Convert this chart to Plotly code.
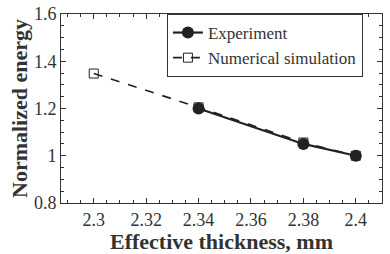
import plotly.graph_objects as go

exp_x = [2.34, 2.38, 2.40]
exp_y = [1.20, 1.05, 1.00]
sim_x = [2.30, 2.34, 2.38, 2.40]
sim_y = [1.348, 1.205, 1.056, 1.00]
x_ticks = [2.3, 2.32, 2.34, 2.36, 2.38, 2.4]
x_tick_labels = ["2.3", "2.32", "2.34", "2.36", "2.38", "2.4"]
y_ticks = [0.8, 1.0, 1.2, 1.4, 1.6]
y_tick_labels = ["0.8", "1", "1.2", "1.4", "1.6"]

FONT = "'Liberation Serif', 'Times New Roman', Times, serif"
fig = go.Figure()
fig.add_trace(go.Scatter(
    x=sim_x, y=sim_y, name="Numerical simulation", mode="lines+markers",
    line=dict(color="#222", width=1.6, dash="dash"),
    marker=dict(symbol="square-open", size=9, color="#222", line=dict(width=1)),
    legendrank=2,
))
fig.add_trace(go.Scatter(
    x=exp_x, y=exp_y, name="Experiment", mode="lines+markers",
    line=dict(color="#222", width=2.2),
    marker=dict(symbol="circle", size=12, color="#222"),
    legendrank=1,
))

axis_common = dict(
    showline=True, linecolor="#333", linewidth=1, mirror="allticks",
    ticks="inside", ticklen=5, tickcolor="#333", tickwidth=1,
    showgrid=False, zeroline=False, automargin=False,
    tickfont=dict(family=FONT, size=18, color="#333"),
)
fig.update_xaxes(
    range=[2.2875, 2.41], tickvals=x_ticks, ticktext=x_tick_labels,
    minor=dict(dtick=0.005, ticks="inside", ticklen=3, tickcolor="#333"),
    title=dict(text="<b>Effective thickness, mm</b>", font=dict(family=FONT, size=22, color="#333"), standoff=4),
    **axis_common,
)
fig.update_yaxes(
    range=[0.8, 1.6], tickvals=y_ticks, ticktext=y_tick_labels,
    minor=dict(dtick=0.05, ticks="inside", ticklen=3, tickcolor="#333"),
    title=dict(text="<b>Normalized energy</b>", font=dict(family=FONT, size=22, color="#333"), standoff=0),
    **axis_common,
)
fig.update_layout(
    width=390, height=254,
    margin=dict(l=61, r=8, t=14, b=51),
    plot_bgcolor="white", paper_bgcolor="white",
    showlegend=True,
    legend=dict(
        x=0.33, y=1.0, xanchor="left", yanchor="top",
        bordercolor="#333", borderwidth=1, bgcolor="white",
        font=dict(family=FONT, size=17, color="#333"),
        tracegroupgap=0, itemwidth=30,
    ),
)
fig.write_html("out.html")
